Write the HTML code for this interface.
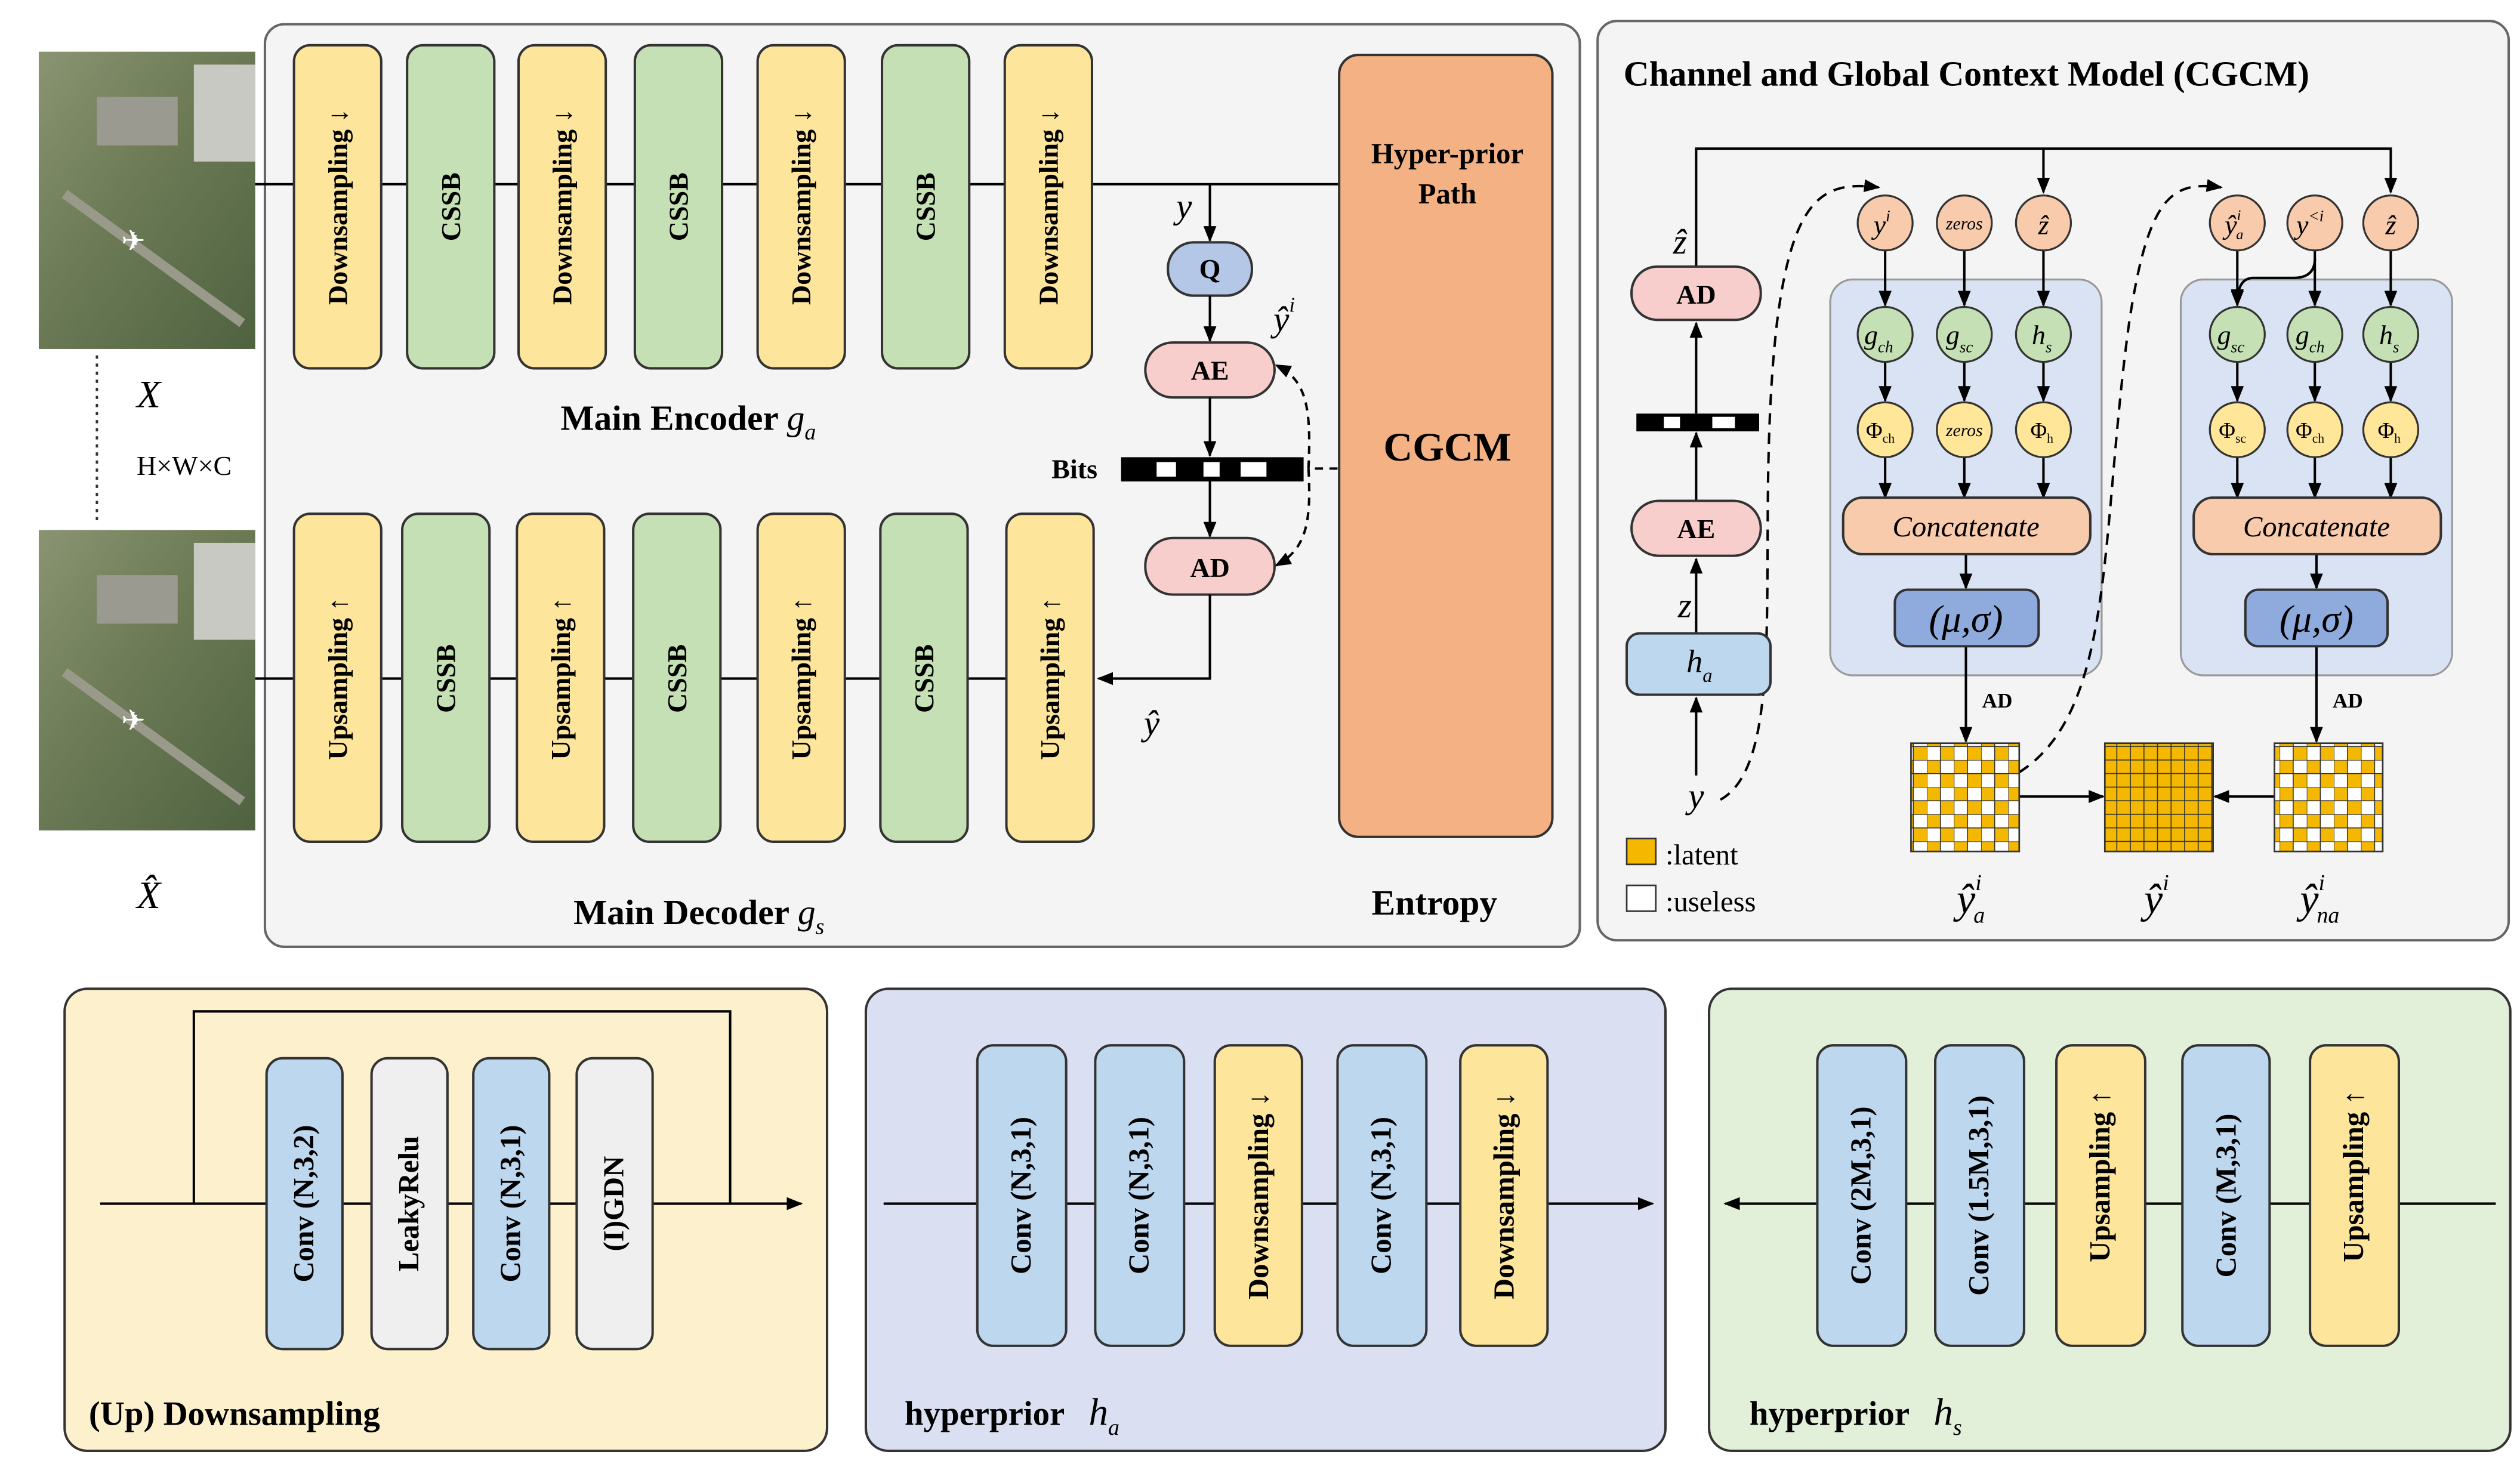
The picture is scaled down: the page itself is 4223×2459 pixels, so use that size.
<!DOCTYPE html>
<html><head><meta charset="utf-8"><style>
html,body{margin:0;padding:0;background:#fff;}
svg{display:block;}
text{font-family:"Liberation Serif",serif;}
.b{font-weight:bold;}
</style></head><body>
<svg width="4223" height="2459" viewBox="0 0 1560 908" preserveAspectRatio="none" xmlns="http://www.w3.org/2000/svg">
<defs>
<marker id="ar" markerWidth="10" markerHeight="10" refX="9" refY="5" orient="auto" markerUnits="userSpaceOnUse"><path d="M0,1 L10,5 L0,9 z" fill="#000"/></marker>
<pattern id="chk" width="16.8" height="16.8" patternUnits="userSpaceOnUse"><rect width="16.8" height="16.8" fill="#fff"/><rect width="8.4" height="8.4" fill="#f5b800"/><rect x="8.4" y="8.4" width="8.4" height="8.4" fill="#f5b800"/><path d="M0,0H16.8M0,8.4H16.8M0,0V16.8M8.4,0V16.8" stroke="#333" stroke-width="0.6"/></pattern>
<pattern id="full" width="8.4" height="8.4" patternUnits="userSpaceOnUse"><rect width="8.4" height="8.4" fill="#f5b800" stroke="#333" stroke-width="0.6"/></pattern>
<linearGradient id="sat" x1="0" y1="0" x2="1" y2="1"><stop offset="0" stop-color="#8a9472"/><stop offset="0.4" stop-color="#6f7d58"/><stop offset="1" stop-color="#4f6240"/></linearGradient>
</defs>

<!-- satellite images -->
<g>
<rect x="24" y="32" width="134" height="184" fill="url(#sat)"/>
<rect x="120" y="40" width="38" height="60" fill="#c9c9c4"/>
<rect x="60" y="60" width="50" height="30" fill="#9a9a90"/>
<path d="M40,120 L150,200" stroke="#9a9a8a" stroke-width="6"/>
<text x="75" y="155" font-size="18" fill="#fff">✈</text>
<rect x="24" y="328" width="134" height="186" fill="url(#sat)"/>
<rect x="120" y="336" width="38" height="60" fill="#c9c9c4"/>
<rect x="60" y="356" width="50" height="30" fill="#9a9a90"/>
<path d="M40,416 L150,496" stroke="#9a9a8a" stroke-width="6"/>
<text x="75" y="452" font-size="18" fill="#fff">✈</text>
</g>
<line x1="60" y1="220" x2="60" y2="325" stroke="#333" stroke-width="1.5" stroke-dasharray="2,3"/>
<text x="92" y="252" font-size="24" font-style="italic" text-anchor="middle">X</text>
<text x="114" y="294" font-size="17" text-anchor="middle">H×W×C</text>
<text x="92" y="562" font-size="24" font-style="italic" text-anchor="middle">X̂</text>

<!-- main panel -->
<rect x="164" y="15" width="814" height="571" rx="12" fill="#f4f4f4" stroke="#666" stroke-width="1.5"/>
<line x1="158" y1="114" x2="829" y2="114" stroke="#000" stroke-width="1.5"/>
<line x1="158" y1="420" x2="182" y2="420" stroke="#000" stroke-width="1.5"/>
<line x1="236" y1="420" x2="623" y2="420" stroke="#000" stroke-width="1.5"/>
<g stroke="#333" stroke-width="1.5">
<rect x="182" y="28" width="54" height="200" rx="10" fill="#fde59c"/>
<rect x="252" y="28" width="54" height="200" rx="10" fill="#c5e0b4"/>
<rect x="321" y="28" width="54" height="200" rx="10" fill="#fde59c"/>
<rect x="393" y="28" width="54" height="200" rx="10" fill="#c5e0b4"/>
<rect x="469" y="28" width="54" height="200" rx="10" fill="#fde59c"/>
<rect x="546" y="28" width="54" height="200" rx="10" fill="#c5e0b4"/>
<rect x="622" y="28" width="54" height="200" rx="10" fill="#fde59c"/>
<rect x="182" y="318" width="54" height="203" rx="10" fill="#fde59c"/>
<rect x="249" y="318" width="54" height="203" rx="10" fill="#c5e0b4"/>
<rect x="320" y="318" width="54" height="203" rx="10" fill="#fde59c"/>
<rect x="392" y="318" width="54" height="203" rx="10" fill="#c5e0b4"/>
<rect x="469" y="318" width="54" height="203" rx="10" fill="#fde59c"/>
<rect x="545" y="318" width="54" height="203" rx="10" fill="#c5e0b4"/>
<rect x="623" y="318" width="54" height="203" rx="10" fill="#fde59c"/>
</g>
<g font-size="17" class="b" text-anchor="middle" dominant-baseline="central" font-weight="bold">
<text transform="translate(209,128) rotate(-90)">Downsampling ↓</text>
<text transform="translate(279,128) rotate(-90)">CSSB</text>
<text transform="translate(348,128) rotate(-90)">Downsampling ↓</text>
<text transform="translate(420,128) rotate(-90)">CSSB</text>
<text transform="translate(496,128) rotate(-90)">Downsampling ↓</text>
<text transform="translate(573,128) rotate(-90)">CSSB</text>
<text transform="translate(649,128) rotate(-90)">Downsampling ↓</text>
<text transform="translate(209,420) rotate(-90)">Upsampling ↑</text>
<text transform="translate(276,420) rotate(-90)">CSSB</text>
<text transform="translate(347,420) rotate(-90)">Upsampling ↑</text>
<text transform="translate(419,420) rotate(-90)">CSSB</text>
<text transform="translate(496,420) rotate(-90)">Upsampling ↑</text>
<text transform="translate(572,420) rotate(-90)">CSSB</text>
<text transform="translate(650,420) rotate(-90)">Upsampling ↑</text>
</g>
<text x="347" y="266" font-size="22" font-weight="bold">Main Encoder <tspan font-style="italic" font-weight="normal">g</tspan><tspan font-size="14" dy="6" font-style="italic" font-weight="normal">a</tspan></text>
<text x="355" y="572" font-size="22" font-weight="bold">Main Decoder <tspan font-style="italic" font-weight="normal">g</tspan><tspan font-size="14" dy="6" font-style="italic" font-weight="normal">s</tspan></text>
<text x="888" y="566" font-size="22" font-weight="bold" text-anchor="middle">Entropy</text>

<rect x="829" y="34" width="132" height="484" rx="12" fill="#f4b183" stroke="#333" stroke-width="1.5"/>
<text x="896" y="101" font-size="18" font-weight="bold" text-anchor="middle">Hyper-prior</text>
<text x="896" y="126" font-size="18" font-weight="bold" text-anchor="middle">Path</text>
<text x="896" y="285" font-size="25" font-weight="bold" text-anchor="middle">CGCM</text>

<!-- entropy chain -->
<text x="733" y="135" font-size="22" font-style="italic" text-anchor="middle">y</text>
<line x1="749" y1="114" x2="749" y2="149" stroke="#000" stroke-width="1.5" marker-end="url(#ar)"/>
<rect x="723" y="150" width="52" height="33" rx="16" fill="#b4c7e7" stroke="#333" stroke-width="1.5"/>
<text x="749" y="172" font-size="17" font-weight="bold" text-anchor="middle">Q</text>
<line x1="749" y1="183" x2="749" y2="211" stroke="#000" stroke-width="1.5" marker-end="url(#ar)"/>
<rect x="709" y="212" width="80" height="34" rx="17" fill="#f8cecc" stroke="#333" stroke-width="1.5"/>
<text x="749" y="235" font-size="17" font-weight="bold" text-anchor="middle">AE</text>
<line x1="749" y1="246" x2="749" y2="282" stroke="#000" stroke-width="1.5" marker-end="url(#ar)"/>
<rect x="694" y="283" width="113" height="15" fill="#000"/>
<rect x="716" y="286" width="12" height="9" fill="#fff"/><rect x="745" y="286" width="10" height="9" fill="#fff"/><rect x="768" y="286" width="16" height="9" fill="#fff"/>
<text x="651" y="296" font-size="17" font-weight="bold">Bits</text>
<line x1="749" y1="298" x2="749" y2="332" stroke="#000" stroke-width="1.5" marker-end="url(#ar)"/>
<rect x="709" y="333" width="80" height="35" rx="17" fill="#f8cecc" stroke="#333" stroke-width="1.5"/>
<text x="749" y="357" font-size="17" font-weight="bold" text-anchor="middle">AD</text>
<path d="M749,368 V420 H680" fill="none" stroke="#000" stroke-width="1.5" marker-end="url(#ar)"/>
<text x="795" y="205" font-size="22" font-style="italic" text-anchor="middle">ŷ<tspan font-size="13" dy="-12">i</tspan></text>
<text x="713" y="455" font-size="22" font-style="italic" text-anchor="middle">ŷ</text>
<path d="M828,290 H812" stroke="#000" stroke-width="1.5" stroke-dasharray="5,4"/>
<path d="M810,290 C812,250 808,235 790,226" fill="none" stroke="#000" stroke-width="1.5" stroke-dasharray="5,4" marker-end="url(#ar)"/>
<path d="M810,290 C812,325 808,340 790,350" fill="none" stroke="#000" stroke-width="1.5" stroke-dasharray="5,4" marker-end="url(#ar)"/>

<!-- CGCM panel -->
<rect x="989" y="13" width="564" height="569" rx="12" fill="#f4f4f4" stroke="#666" stroke-width="1.5"/>
<text x="1005" y="53" font-size="22" font-weight="bold">Channel and Global Context Model (CGCM)</text>
<rect x="1133" y="173" width="168" height="245" rx="14" fill="#dae3f3" stroke="#999" stroke-width="1.2"/>
<rect x="1350" y="173" width="168" height="245" rx="14" fill="#dae3f3" stroke="#999" stroke-width="1.2"/>

<g stroke="#000" stroke-width="1.5" fill="none">
<path d="M1050,165 V92 H1480 V119" marker-end="url(#ar)"/>
<path d="M1265,92 V119" marker-end="url(#ar)"/>
<path d="M1050,480 V432" marker-end="url(#ar)"/>
<path d="M1050,392 V346" marker-end="url(#ar)"/>
<path d="M1050,310 V268" marker-end="url(#ar)"/>
<path d="M1050,256 V200" marker-end="url(#ar)"/>
<path d="M1167,155 V189" marker-end="url(#ar)"/><path d="M1216,155 V189" marker-end="url(#ar)"/><path d="M1265,155 V189" marker-end="url(#ar)"/>
<path d="M1167,224 V248" marker-end="url(#ar)"/><path d="M1216,224 V248" marker-end="url(#ar)"/><path d="M1265,224 V248" marker-end="url(#ar)"/>
<path d="M1167,283 V308" marker-end="url(#ar)"/><path d="M1216,283 V308" marker-end="url(#ar)"/><path d="M1265,283 V308" marker-end="url(#ar)"/>
<path d="M1217,343 V364" marker-end="url(#ar)"/>
<path d="M1217,400 V459" marker-end="url(#ar)"/>
<path d="M1385,155 V189" marker-end="url(#ar)"/><path d="M1433,155 V189" marker-end="url(#ar)"/><path d="M1480,155 V189" marker-end="url(#ar)"/>
<path d="M1433,160 Q1433,172 1420,172 H1395 Q1385,172 1385,188" marker-end="url(#ar)"/>
<path d="M1385,224 V248" marker-end="url(#ar)"/><path d="M1433,224 V248" marker-end="url(#ar)"/><path d="M1480,224 V248" marker-end="url(#ar)"/>
<path d="M1385,283 V308" marker-end="url(#ar)"/><path d="M1433,283 V308" marker-end="url(#ar)"/><path d="M1480,283 V308" marker-end="url(#ar)"/>
<path d="M1434,343 V364" marker-end="url(#ar)"/>
<path d="M1434,400 V459" marker-end="url(#ar)"/>
<path d="M1250,493 H1302" marker-end="url(#ar)"/>
<path d="M1408,493 H1371" marker-end="url(#ar)"/>
<path d="M1065,495 C1110,470 1085,330 1100,200 C1110,120 1130,112 1163,116" stroke-dasharray="7,5" marker-end="url(#ar)"/>
<path d="M1250,478 C1310,440 1300,330 1318,200 C1330,120 1345,112 1375,116" stroke-dasharray="7,5" marker-end="url(#ar)"/>
</g>

<rect x="1010" y="165" width="80" height="33" rx="16" fill="#f8cecc" stroke="#333" stroke-width="1.5"/>
<text x="1050" y="188" font-size="17" font-weight="bold" text-anchor="middle">AD</text>
<text x="1040" y="157" font-size="22" font-style="italic" text-anchor="middle">ẑ</text>
<rect x="1013" y="256" width="76" height="11" fill="#000"/>
<rect x="1030" y="258" width="10" height="7" fill="#fff"/><rect x="1060" y="258" width="14" height="7" fill="#fff"/>
<rect x="1010" y="310" width="80" height="34" rx="17" fill="#f8cecc" stroke="#333" stroke-width="1.5"/>
<text x="1050" y="333" font-size="17" font-weight="bold" text-anchor="middle">AE</text>
<text x="1043" y="382" font-size="22" font-style="italic" text-anchor="middle">z</text>
<rect x="1007" y="392" width="89" height="38" rx="8" fill="#bdd7ee" stroke="#333" stroke-width="1.5"/>
<text x="1052" y="416" font-size="20" font-style="italic" text-anchor="middle">h<tspan font-size="12" dy="6">a</tspan></text>
<text x="1050" y="500" font-size="22" font-style="italic" text-anchor="middle">y</text>

<g stroke="#333" stroke-width="1.2">
<circle cx="1167" cy="138" r="17" fill="#f8cbad"/><circle cx="1216" cy="138" r="17" fill="#f8cbad"/><circle cx="1265" cy="138" r="17" fill="#f8cbad"/>
<circle cx="1385" cy="138" r="17" fill="#f8cbad"/><circle cx="1433" cy="138" r="17" fill="#f8cbad"/><circle cx="1480" cy="138" r="17" fill="#f8cbad"/>
<circle cx="1167" cy="207" r="17" fill="#c5e0b4"/><circle cx="1216" cy="207" r="17" fill="#c5e0b4"/><circle cx="1265" cy="207" r="17" fill="#c5e0b4"/>
<circle cx="1385" cy="207" r="17" fill="#c5e0b4"/><circle cx="1433" cy="207" r="17" fill="#c5e0b4"/><circle cx="1480" cy="207" r="17" fill="#c5e0b4"/>
<circle cx="1167" cy="266" r="17" fill="#ffe699"/><circle cx="1216" cy="266" r="17" fill="#ffe699"/><circle cx="1265" cy="266" r="17" fill="#ffe699"/>
<circle cx="1385" cy="266" r="17" fill="#ffe699"/><circle cx="1433" cy="266" r="17" fill="#ffe699"/><circle cx="1480" cy="266" r="17" fill="#ffe699"/>
</g>
<g font-size="17" font-style="italic" text-anchor="middle">
<text x="1165" y="145">y<tspan font-size="10" dy="-8">i</tspan></text>
<text x="1216" y="142" font-size="11">zeros</text>
<text x="1265" y="145">ẑ</text>
<text x="1383" y="145">ŷ<tspan font-size="9" dy="-9">i</tspan><tspan font-size="9" dx="-3" dy="12">a</tspan></text>
<text x="1430" y="145">y<tspan font-size="10" dy="-8">&lt;i</tspan></text>
<text x="1480" y="145">ẑ</text>
<text x="1163" y="213">g<tspan font-size="10" dy="5">ch</tspan></text>
<text x="1213" y="213">g<tspan font-size="10" dy="5">sc</tspan></text>
<text x="1264" y="213">h<tspan font-size="10" dy="5">s</tspan></text>
<text x="1381" y="213">g<tspan font-size="10" dy="5">sc</tspan></text>
<text x="1430" y="213">g<tspan font-size="10" dy="5">ch</tspan></text>
<text x="1479" y="213">h<tspan font-size="10" dy="5">s</tspan></text>
</g>
<g font-size="14" text-anchor="middle">
<text x="1164" y="271">Φ<tspan font-size="8" dy="3">ch</tspan></text>
<text x="1216" y="270" font-size="11" font-style="italic">zeros</text>
<text x="1264" y="271">Φ<tspan font-size="8" dy="3">h</tspan></text>
<text x="1382" y="271">Φ<tspan font-size="8" dy="3">sc</tspan></text>
<text x="1430" y="271">Φ<tspan font-size="8" dy="3">ch</tspan></text>
<text x="1479" y="271">Φ<tspan font-size="8" dy="3">h</tspan></text>
</g>
<rect x="1141" y="308" width="153" height="35" rx="12" fill="#f8cbad" stroke="#333" stroke-width="1.5"/>
<text x="1217" y="332" font-size="18" font-style="italic" text-anchor="middle">Concatenate</text>
<rect x="1358" y="308" width="153" height="35" rx="12" fill="#f8cbad" stroke="#333" stroke-width="1.5"/>
<text x="1434" y="332" font-size="18" font-style="italic" text-anchor="middle">Concatenate</text>
<rect x="1173" y="365" width="89" height="35" rx="8" fill="#8faadc" stroke="#333" stroke-width="1.5"/>
<text x="1217" y="391" font-size="24" font-style="italic" text-anchor="middle">(μ,σ)</text>
<rect x="1390" y="365" width="88" height="35" rx="8" fill="#8faadc" stroke="#333" stroke-width="1.5"/>
<text x="1434" y="391" font-size="24" font-style="italic" text-anchor="middle">(μ,σ)</text>
<text x="1227" y="438" font-size="13" font-weight="bold">AD</text>
<text x="1444" y="438" font-size="13" font-weight="bold">AD</text>

<rect x="1183" y="460" width="67" height="67" fill="url(#chk)" stroke="#333"/>
<rect x="1303" y="460" width="67" height="67" fill="url(#full)" stroke="#333"/>
<rect x="1408" y="460" width="67" height="67" fill="url(#chk)" stroke="#333"/>
<g font-size="26" font-style="italic" text-anchor="middle">
<text x="1220" y="565">ŷ<tspan font-size="14" dy="-14">i</tspan><tspan font-size="14" dx="-5" dy="20">a</tspan></text>
<text x="1335" y="565">ŷ<tspan font-size="14" dy="-14">i</tspan></text>
<text x="1436" y="565">ŷ<tspan font-size="14" dy="-14">i</tspan><tspan font-size="14" dx="-5" dy="20">na</tspan></text>
</g>
<rect x="1007" y="519" width="18" height="16" fill="#f5b800" stroke="#333"/>
<text x="1031" y="535" font-size="18">:latent</text>
<rect x="1007" y="548" width="18" height="16" fill="#fff" stroke="#333"/>
<text x="1031" y="564" font-size="18">:useless</text>

<!-- bottom panels -->
<rect x="40" y="612" width="472" height="286" rx="14" fill="#fdf0cc" stroke="#333" stroke-width="1.5"/>
<rect x="536" y="612" width="495" height="286" rx="14" fill="#dae0f1" stroke="#333" stroke-width="1.5"/>
<rect x="1058" y="612" width="496" height="286" rx="14" fill="#e2efd9" stroke="#333" stroke-width="1.5"/>
<g stroke="#000" stroke-width="1.5" fill="none">
<path d="M62,745 H496" marker-end="url(#ar)"/>
<path d="M120,745 V626 H452 V745"/>
<path d="M547,745 H1023" marker-end="url(#ar)"/>
<path d="M1545,745 H1068" marker-end="url(#ar)"/>
</g>
<g stroke="#333" stroke-width="1.5">
<rect x="165" y="655" width="47" height="180" rx="10" fill="#bdd7ee"/>
<rect x="230" y="655" width="47" height="180" rx="10" fill="#efefef"/>
<rect x="293" y="655" width="47" height="180" rx="10" fill="#bdd7ee"/>
<rect x="357" y="655" width="47" height="180" rx="10" fill="#efefef"/>
<rect x="605" y="647" width="55" height="186" rx="10" fill="#bdd7ee"/>
<rect x="678" y="647" width="55" height="186" rx="10" fill="#bdd7ee"/>
<rect x="752" y="647" width="54" height="186" rx="10" fill="#fde59c"/>
<rect x="828" y="647" width="55" height="186" rx="10" fill="#bdd7ee"/>
<rect x="904" y="647" width="54" height="186" rx="10" fill="#fde59c"/>
<rect x="1125" y="647" width="55" height="186" rx="10" fill="#bdd7ee"/>
<rect x="1198" y="647" width="55" height="186" rx="10" fill="#bdd7ee"/>
<rect x="1273" y="647" width="55" height="186" rx="10" fill="#fde59c"/>
<rect x="1351" y="647" width="54" height="186" rx="10" fill="#bdd7ee"/>
<rect x="1430" y="647" width="55" height="186" rx="10" fill="#fde59c"/>
</g>
<g font-size="18" font-weight="bold" text-anchor="middle" dominant-baseline="central">
<text transform="translate(188,745) rotate(-90)">Conv (N,3,2)</text>
<text transform="translate(253,745) rotate(-90)">LeakyRelu</text>
<text transform="translate(316,745) rotate(-90)">Conv (N,3,1)</text>
<text transform="translate(380,745) rotate(-90)">(I)GDN</text>
<text transform="translate(632,740) rotate(-90)">Conv (N,3,1)</text>
<text transform="translate(705,740) rotate(-90)">Conv (N,3,1)</text>
<text transform="translate(779,740) rotate(-90)">Downsampling ↓</text>
<text transform="translate(855,740) rotate(-90)">Conv (N,3,1)</text>
<text transform="translate(931,740) rotate(-90)">Downsampling ↓</text>
<text transform="translate(1152,740) rotate(-90)">Conv (2M,3,1)</text>
<text transform="translate(1225,740) rotate(-90)">Conv (1.5M,3,1)</text>
<text transform="translate(1300,728) rotate(-90)">Upsampling ↑</text>
<text transform="translate(1378,740) rotate(-90)">Conv (M,3,1)</text>
<text transform="translate(1457,728) rotate(-90)">Upsampling ↑</text>
</g>
<text x="55" y="882" font-size="21" font-weight="bold">(Up) Downsampling</text>
<text x="560" y="882" font-size="21" font-weight="bold">hyperprior <tspan dx="10" font-style="italic" font-weight="normal" font-size="24">h</tspan><tspan font-size="14" dy="6" font-style="italic" font-weight="normal">a</tspan></text>
<text x="1083" y="882" font-size="21" font-weight="bold">hyperprior <tspan dx="10" font-style="italic" font-weight="normal" font-size="24">h</tspan><tspan font-size="14" dy="6" font-style="italic" font-weight="normal">s</tspan></text>
</svg>
</body></html>
